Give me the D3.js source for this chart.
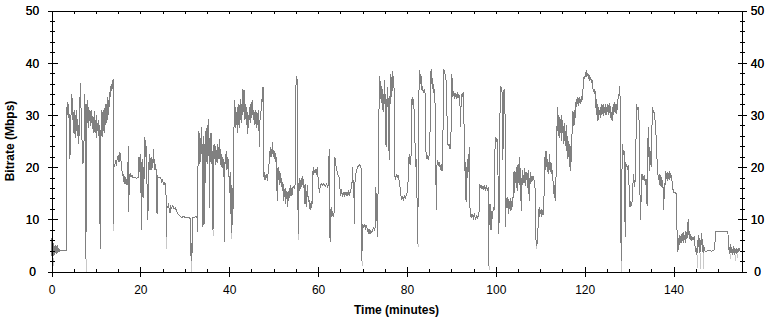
<!DOCTYPE html>
<html>
<head>
<meta charset="utf-8">
<script src="https://cdn.jsdelivr.net/npm/d3@7"></script>
<style>
  body { margin: 0; background: #fff; }
  .canvas text { font-family: "Liberation Sans", Arial, sans-serif; fill: #000; }
</style>
</head>
<body>
<div class="canvas"></div>
<script>
// ---- data (minutes, Mbps) ----
const xTicks = [0, 20, 40, 60, 80, 100, 120, 140];
const yTicks = [0, 10, 20, 30, 40, 50];

const bitrate = [
  [0,6.5],[0.1,3],[0.2,7.5],[0.3,2.5],[0.4,5.5],[0.5,3],[0.6,4.8],[0.7,3.2],[0.8,5],[0.9,3.5],[1.0,4.3],[1.1,3.4],[1.2,4.8],[1.3,3.6],[1.4,5],[1.5,3.8],[1.6,4.5],[1.8,3.9],[2.0,4],[2.5,4],[3.0,4],[3.4,4],
  [3.45,31.5],[3.55,30],[3.65,32.5],[3.75,29.5],[3.85,32],[3.95,30],[4.05,27],[4.15,21.6],[4.3,28],[4.4,30.2],[4.5,33],[4.6,34],[4.7,29],[4.8,31],[4.9,26.5],[5.0,30.5],[5.1,27],[5.2,31],[5.3,26],[5.4,25.5],[5.5,30],[5.6,27],[5.7,31],[5.8,26.5],[5.9,29],[6.0,24.5],[6.1,28],[6.2,26],[6.3,30],[6.4,33],[6.55,36.1],[6.65,31],[6.8,27.6],[6.9,24],[7.0,20.6],[7.15,22],[7.25,20.8],[7.35,27],[7.45,34],[7.6,31],[7.7,30],[7.75,2.4],[7.85,30],[7.9,32],
  [8.0,29],[8.1,32.8],[8.2,28.5],[8.3,31.5],[8.4,27.5],[8.5,31],[8.6,28.8],[8.7,30.5],[8.8,27.8],[8.9,31],[9.0,28.5],[9.1,30],[9.2,27.3],[9.3,29.8],[9.4,26.5],[9.5,29.5],[9.6,27],[9.7,30.8],[9.8,26.5],[9.9,29],[10.0,27.5],[10.1,30],[10.2,25.6],[10.3,28.5],[10.4,27],[10.5,29],[10.6,26],[10.7,28],
  [10.8,24],[10.9,9.1],[10.95,26],[11.05,4.3],[11.15,28],
  [11.25,31],[11.35,26],[11.45,30.5],[11.55,25.7],[11.65,31],[11.75,27],[11.85,30],[11.95,26.5],[12.05,31.5],[12.15,28],[12.25,32],[12.35,28.5],[12.45,31],[12.55,33.4],[12.65,29],[12.75,32.5],[12.85,30],[12.95,33],[13.05,31.5],
  [13.15,34],[13.25,35.5],[13.35,33.5],[13.45,36],[13.55,34.5],[13.65,36.5],[13.75,35],[13.85,36.8],[13.9,36.5],[13.95,9.1],[14.0,21],
  [14.2,20],[14.4,21.3],[14.6,20.2],[14.8,21.8],[15.0,22.2],[15.2,21],[15.4,22.9],[15.6,21.5],[15.8,20],
  [15.95,18.5],[16.1,18.7],[16.25,17.2],[16.4,18.2],[16.55,16.8],[16.7,18],[16.85,17.4],[17.0,16.5],[17.15,18],[17.3,24.1],[17.4,11.4],[17.5,18.5],[17.7,18.7],[17.9,18.2],[18.1,18.5],[18.3,18.1],[18.6,18.1],[18.9,18.1],[19.1,17.8],[19.3,18],
  [19.6,18],[19.7,22],[19.8,21.5],[19.9,19],[20.0,22.5],[20.1,15],[20.2,21],[20.3,7.9],[20.4,17],[20.5,21.5],[20.6,14],[20.7,20],[20.8,16],
  [20.9,23],[21.0,25.7],[21.1,24.5],[21.2,22],[21.3,24],[21.4,20],[21.55,15],[21.7,9.8],[21.8,18],
  [21.9,21],[22.0,19.5],[22.1,22.5],[22.2,20],[22.3,21.8],[22.4,19.5],[22.5,22],[22.6,20.5],[22.7,21.5],[22.8,19.8],[22.9,23.5],[23.0,22],[23.1,20.5],[23.2,21.5],[23.3,19.5],[23.4,20.5],
  [23.6,19],[23.75,11],[23.85,18.5],[24.0,18.1],[24.3,18.1],[24.6,18],[24.8,17.2],[25.0,17.5],[25.2,16.8],[25.4,17],
  [25.6,16.5],[25.75,17],[25.85,6.6],[25.95,12.5],
  [26.1,12.3],[26.3,12.8],[26.5,12],[26.7,11.2],[26.8,12.5],[27.0,12.2],[27.3,12.6],[27.6,12],[27.9,12.2],[28.2,11.4],[28.5,11],[28.9,10.6],
  [29.3,10.4],[29.8,10.5],[30.3,10.3],[30.8,10.4],[31.1,10.2],
  [31.3,10],[31.35,3],[31.45,5.5],[31.5,2.1],[31.6,4.5],[31.7,3.5],[31.75,6],[31.8,10.3],[32.2,10.4],[32.6,10.5],[32.85,10.3],
  [32.9,7.5],[33.0,23.8],
  [33.1,27],[33.2,22],[33.3,26.5],[33.4,20.5],[33.5,25.5],[33.6,21],[33.7,27.6],[33.8,22.5],[33.9,24.5],[34.0,19],[34.1,8.5],[34.2,23],[34.3,26],[34.4,20],[34.5,9.1],[34.6,24],[34.7,27],[34.8,21],[34.9,27.5],[35.0,22],[35.1,28],[35.2,20.5],[35.3,27],[35.4,29.2],[35.5,22],[35.6,12.1],[35.7,25],[35.8,21],[35.9,26.5],[36.0,20.5],[36.1,24.5],[36.2,19.5],[36.35,7.9],[36.45,22],
  [36.6,24.5],[36.7,21.5],[36.8,23.5],[36.9,20.5],[37.0,24],[37.1,21],[37.2,23],[37.3,20.8],[37.4,24.5],[37.5,21.5],[37.6,23.8],[37.7,22],[37.8,25.4],[37.9,21.5],[38.0,23.5],[38.1,20.5],[38.2,22.5],[38.3,20],[38.4,22],[38.5,19.8],[38.6,21.5],[38.7,20.5],[38.8,21],[38.95,5.6],[39.05,21],
  [39.2,22.5],[39.3,20],[39.4,23],[39.5,19.5],[39.6,22],[39.7,20.5],[39.8,21.5],[39.9,19],[40.0,17.5],
  [40.1,15],[40.2,19],[40.3,11],[40.4,17],[40.5,7.3],[40.6,14],[40.7,9],[40.8,16],[40.95,12],
  [41.1,30],[41.2,32.8],[41.3,28.5],[41.4,31.5],[41.5,27.5],[41.6,30.5],[41.7,28],[41.8,31.5],[41.9,26.5],[42.0,30],[42.1,28],[42.2,32],[42.3,27.5],[42.4,30.5],[42.5,29],[42.6,33],[42.7,28.5],[42.8,32],[42.9,30],[43.0,34.5],[43.1,35],[43.2,30.5],[43.3,33],[43.4,29],[43.5,34.7],[43.6,30],[43.7,32],[43.8,28.5],[43.9,31.5],[44.0,28],[44.1,30.5],[44.2,26.4],[44.3,30],[44.4,27.5],[44.5,31.5],[44.6,29],[44.7,32],[44.8,28.5],[44.9,31],[45.0,29.5],[45.1,32.5],[45.2,30],[45.3,32.8],[45.4,29],[45.5,31],[45.6,28.5],[45.7,30.5],[45.8,28],[45.9,31],[46.0,29],[46.1,30.5],[46.2,27.5],[46.3,30],[46.4,28],[46.5,31],[46.6,27],[46.7,29.5],[46.8,23.8],[46.9,28.5],[47.0,30.5],[47.1,29],[47.2,32],[47.3,31],[47.4,33.5],[47.5,32.5],[47.6,35.3],[47.7,34],
  [47.8,18.2],[47.9,17.6],[48.0,19],[48.2,17.5],[48.4,18.7],[48.6,17.4],[48.8,19.3],[49.0,21],
  [49.1,23],[49.2,22],[49.3,23.8],[49.4,22.3],[49.5,23.5],[49.6,22],[49.7,24.8],[49.8,22.5],[49.9,23.2],[50.0,21.9],[50.1,23],[50.2,21.5],[50.3,22.8],[50.4,21],[50.5,22.5],
  [50.65,19.5],[50.8,13.6],[50.9,19],[51.0,20],[51.1,17.5],[51.2,19.5],[51.3,16.5],[51.4,18.5],[51.5,17],[51.6,18.8],[51.7,16.2],[51.8,18],[51.9,17],[52.0,16.5],
  [52.1,15.5],[52.2,16.8],[52.3,13.5],[52.4,15.8],[52.5,14.2],[52.6,16],[52.7,13],[52.8,15],[52.9,13.8],[53.0,15.5],[53.1,12.3],[53.2,14.5],[53.3,13.5],[53.4,15.5],[53.5,14],[53.6,16],[53.7,14.5],[53.8,16.5],[53.9,15],[54.0,16],[54.1,14.5],[54.3,16],[54.5,16.2],[54.7,16],
  [54.9,17],[55.0,35],[55.1,37],[55.2,37.5],[55.3,36.5],[55.4,34],[55.5,7.2],[55.6,17],
  [55.7,16.5],[55.8,18],[55.9,15.5],[56.0,17.5],[56.1,15.8],[56.2,17.8],[56.3,16.2],[56.4,18.2],[56.5,16.5],[56.6,17.8],[56.7,16],[56.8,17.5],[56.9,13],[57.0,16.5],[57.1,15],[57.2,16.8],[57.3,12.3],[57.4,15.5],[57.5,14],[57.6,16.5],[57.7,15],[57.8,13.5],[57.9,14.5],[58.0,12.5],
  [58.1,13.6],[58.2,11.7],[58.3,13.2],[58.4,12],[58.5,13.5],[58.6,12.5],[58.7,14],
  [58.8,19.3],[58.9,18.5],[59.0,20],[59.2,18.8],[59.4,19.6],[59.6,18.5],[59.8,20],[59.9,19],
  [60.1,17],[60.3,15],[60.5,16.5],[60.7,16.8],[61.0,16.5],[61.3,16.9],[61.6,16.3],[61.9,16.8],[62.2,16],[62.35,18],
  [62.5,23.5],[62.6,12],[62.7,5.6],[62.8,12],
  [62.9,11],[63.0,12.3],[63.1,10.4],[63.3,11.5],[63.5,10.5],[63.65,11.8],[63.8,21.9],[63.9,20.5],
  [64.1,20],[64.3,19],[64.5,18.5],[64.7,18.2],[64.9,16],[65.1,14.5],[65.3,15.8],[65.5,14.2],
  [65.7,15],[65.9,14.5],[66.1,15.3],[66.3,14.6],[66.5,15.2],[66.7,14.5],[66.9,15.5],[67.1,14.8],[67.3,15.4],
  [67.5,16],[67.7,17.5],[67.8,20],[67.95,14],[68.1,16],[68.2,9.1],[68.3,17],
  [68.5,18.7],[68.7,19.5],[68.9,20],[69.1,20.3],[69.3,20.5],[69.5,20.2],[69.7,19.8],
  [69.8,5],[69.85,2.1],[69.95,7],
  [70.1,9],[70.3,8.5],[70.5,9.1],[70.7,8.2],[70.9,8.6],[71.1,8],[71.3,7.5],[71.5,8.2],[71.7,7.2],[71.9,7.8],[72.1,7.5],[72.3,8],[72.5,8.3],[72.7,8],[72.9,8.6],
  [73.0,16.2],[73.1,12],[73.2,15],[73.3,6.6],[73.45,12],
  [73.7,30],[73.8,37.5],[73.9,36],
  [74.0,33],[74.1,36.5],[74.2,34],[74.3,35.5],[74.4,32],[74.5,35],[74.6,31],[74.7,34],[74.8,30.5],[74.9,36.6],[75.0,32],[75.1,34],[75.2,28],[75.3,23.8],[75.4,30],[75.5,33],[75.6,31.5],[75.7,35.3],[75.8,30],[75.9,27],[76.0,21.3],[76.1,30],[76.2,34],[76.3,32],[76.4,37.9],[76.5,33.5],[76.6,36],[76.7,34.5],[76.8,38.5],[76.9,36.5],[77.0,37.5],[77.1,35],
  [77.2,18.4],[77.4,17.8],[77.6,18.5],[77.8,18],[78.0,18.4],[78.2,17.6],[78.4,16.5],
  [78.6,14.8],[78.8,13.8],[79.0,14.5],[79.2,13.6],[79.4,14.6],[79.6,14],[79.8,14.5],
  [80.0,15],[80.2,16.2],[80.35,20],[80.5,22.5],[80.7,20.5],[80.9,21.3],[81.0,27],[81.15,33.4],[81.3,32],[81.45,33],[81.6,31],[81.8,25],[82.0,20],[82.15,21.5],[82.3,12],[82.4,5.3],[82.5,13],[82.6,25],[82.7,34],[82.8,37.5],[82.9,38.5],[83.0,36],[83.15,37.8],[83.3,35],[83.5,35.3],[83.7,34.2],[83.9,35],[84.1,34],[84.2,30],[84.3,22.5],[84.5,21.5],[84.7,22.3],[84.9,21.3],[85.05,23],
  [85.2,27],[85.3,33],[85.4,38.5],[85.5,36],[85.6,38.8],[85.7,35],[85.8,37],[85.9,34.5],[86.0,36],[86.1,34],[86.2,35],[86.3,33.5],[86.45,25],[86.6,11.7],[86.7,20],[86.9,21.3],[87.1,20.5],
  [87.3,21],[87.5,19.5],[87.7,20.5],[87.9,19.3],[88.05,20],
  [88.15,30],[88.2,38.8],[88.35,38],[88.5,38.5],[88.65,37],[88.8,36.6],[88.95,34],
  [89.1,25],[89.3,24],[89.5,24.5],[89.7,23.5],[89.85,24],
  [90.0,30],[90.1,37.9],[90.2,36],[90.35,33.5],[90.5,34.5],[90.65,33],[90.8,34.2],[90.95,33.5],[91.1,34],[91.25,33],[91.4,34.3],[91.55,33.2],[91.7,34],[91.85,33],[92.0,31],[92.1,27.6],[92.2,33],[92.35,34],[92.5,33.5],[92.65,34.3],[92.8,34],
  [92.9,21.3],[93.0,22.5],[93.1,18],[93.2,21],[93.3,13.3],[93.4,20],[93.5,17],[93.6,21.5],[93.7,18.5],[93.8,22],[93.9,19],[94.0,23.8],
  [94.1,17],[94.2,12],[94.3,10.4],[94.45,11],[94.6,10.2],[94.8,11],[95.0,10.3],[95.2,10.8],[95.4,10.1],[95.6,10.6],[95.8,10.2],[96.0,10.7],[96.2,10.5],
  [96.35,16.8],[96.5,16],[96.7,16.6],[96.9,15.8],[97.1,16.4],[97.3,15.6],[97.5,16.5],[97.7,15.8],[97.9,16.3],[98.1,15.5],[98.3,16.2],
  [98.4,1.1],[98.5,12],[98.6,9],[98.7,13],[98.8,8],[98.9,12.5],[99.0,7.9],[99.1,11.5],[99.2,10],
  [99.45,12.3],[99.7,12],[99.85,25.7],[100.0,24.5],[100.2,25.5],[100.4,25],[100.55,15],[100.7,7.2],[100.85,20],[101.0,35.6],[101.15,34.5],[101.3,35.3],[101.45,34],[101.6,21.3],[101.75,34.5],[101.9,35],[102.05,34],[102.2,8.5],
  [102.35,14],[102.5,12.5],[102.65,14.2],[102.8,11],[102.95,13.8],[103.1,12],[103.25,14],[103.4,11.5],[103.55,13.5],[103.7,12.3],[103.85,14],[104.0,15],[104.1,19.3],[104.25,15],
  [104.4,19],[104.5,17],[104.6,20],[104.7,16],[104.8,19.5],[104.9,15.5],[105.0,20.5],[105.1,17],[105.2,19],[105.3,16.5],[105.4,22],[105.5,17.5],[105.6,19],[105.7,11.5],[105.8,18],[105.9,17],[106.0,19.5],[106.1,16.5],[106.2,18.5],[106.3,17.2],[106.4,19.8],[106.5,17],[106.6,18.8],[106.7,16.4],[106.8,19],[106.9,17.5],[107.0,18.5],[107.1,16],[107.2,18.9],[107.3,17.5],[107.4,19.5],[107.5,13.5],[107.6,18],[107.7,17],[107.8,19],[107.9,16.8],[108.0,18.2],[108.2,17.6],[108.4,18.3],[108.6,17.5],[108.8,16.5],
  [108.95,13],[109.05,6],[109.15,5],[109.3,5.3],[109.45,6.5],[109.6,12],[109.75,10.5],[109.9,12.3],[110.05,11],[110.2,12],[110.35,10.4],[110.5,11.8],[110.65,10.8],[110.8,12.5],
  [111.0,20],[111.1,22.5],[111.2,19.5],[111.3,23],[111.4,20],[111.5,22],[111.6,19],[111.7,21.5],[111.8,18.7],[111.9,21],[112.0,20.5],[112.1,22.5],[112.2,19.5],[112.3,21],[112.4,19],[112.5,20.8],[112.6,18.7],[112.75,19.5],[112.9,17],[113.05,14.9],[113.2,16.5],[113.35,13.6],[113.5,16],[113.65,22],
  [113.8,29],[113.9,31.5],[114.0,27],[114.1,30],[114.2,26],[114.3,29.5],[114.4,25.5],[114.5,28.5],[114.6,26.5],[114.7,30],[114.8,25],[114.9,28],[115.0,26.5],[115.1,29],[115.2,24.5],[115.3,27.5],[115.4,25.5],[115.5,28.5],[115.6,24],[115.7,27],[115.8,25],[115.9,28],[116.0,23],[116.1,26],[116.2,21.5],[116.3,25],[116.4,22],
  [116.5,24.5],[116.6,20],[116.7,23.5],[116.8,19.3],[116.9,24],[117.0,21],[117.1,25],
  [117.2,27.6],[117.3,30.8],[117.4,28],[117.5,30.5],[117.6,27.8],[117.7,31],[117.8,29],[117.9,30.5],
  [118.0,32],[118.1,33],[118.2,31.5],[118.3,33.4],[118.4,32],[118.5,33],[118.6,31.8],[118.7,33.2],[118.8,32.3],[118.9,33.5],[119.0,32.1],[119.1,33],[119.2,32.4],[119.3,33.6],[119.4,32.8],
  [119.6,34.5],[119.75,36.6],[119.9,37.5],[120.0,36.8],[120.15,38.2],[120.3,37.2],[120.45,38.5],[120.6,37.5],
  [120.75,37.9],[120.9,36.8],[121.05,37.6],[121.2,36.6],[121.35,37.3],[121.5,36.2],[121.65,36.8],
  [121.8,35.3],[121.95,34.5],[122.1,35],[122.25,34],[122.4,34.6],
  [122.5,32.8],[122.6,30],[122.7,33],[122.8,29.5],[122.9,32],[123.0,28.9],[123.1,31.5],[123.2,29.5],[123.3,31],[123.4,30],[123.5,31.5],
  [123.6,29.5],[123.7,31.8],[123.8,30],[123.9,32],[124.0,30.2],[124.1,31.5],[124.2,29.8],[124.3,32],[124.4,30.5],[124.5,31.6],[124.6,30],[124.7,32.1],[124.8,30.3],[124.9,31.5],[125.0,29.9],[125.1,32],[125.2,30.5],[125.3,31.3],[125.4,30],[125.5,32.3],[125.6,30.4],[125.7,31.7],[125.8,29.5],[125.9,31],[126.0,29],[126.1,30.5],[126.2,28.9],[126.3,31.5],[126.4,30],[126.5,32],[126.6,30.5],[126.7,32.4],[126.8,30.8],[126.9,32],[127.0,30.3],[127.1,31.8],[127.2,30.2],[127.3,32.5],[127.4,31],[127.5,33],
  [127.65,33.5],[127.8,34.5],[127.9,35.6],[128.0,32],[128.1,20],[128.2,2.1],[128.3,8],
  [128.45,24.5],[128.6,22],[128.75,23.2],[128.9,22.5],[129.0,23],[129.1,6.6],[129.2,21],[129.35,20],[129.5,20.5],[129.65,19.5],[129.8,20.3],[129.95,18],
  [130.05,13.6],[130.2,12.3],[130.35,13.4],[130.5,12.5],[130.65,13.2],
  [130.8,15],[130.95,18.7],[131.1,17.5],[131.25,16.2],[131.4,18],[131.55,25],[131.7,32.1],[131.85,31],[132.0,31.5],[132.15,30.5],[132.3,28],[132.45,15],[132.6,9.8],[132.75,16],[132.9,18.7],[133.05,17.5],[133.2,18.3],[133.35,17.5],[133.5,18.5],[133.65,16.5],[133.8,17.8],[133.95,15],[134.05,12.6],[134.15,20],[134.3,27.6],[134.45,22],[134.55,23.8],[134.65,19.3],[134.8,23],[134.95,20],[135.1,26],[135.25,31.5],[135.4,30.5],[135.55,30.8],[135.7,30],[135.85,29],[136.0,27.5],[136.15,24],[136.3,21.3],
  [136.45,19],[136.6,17.5],[136.75,18.7],[136.9,16.5],[137.05,18.5],[137.2,16.2],[137.35,18],[137.5,17],[137.65,16],[137.8,11.7],[137.95,17],[138.1,16.5],
  [138.25,19.3],[138.4,17.8],[138.55,19],[138.7,17.4],[138.85,18.8],[139.0,17.6],[139.15,19.3],[139.3,18],[139.45,18.5],[139.6,17.8],
  [139.8,16],[139.95,15.5],[140.1,15],[140.3,15.2],[140.5,15],[140.7,14.9],
  [140.8,6.9],[140.85,3.7],[140.95,6],[141.05,4.2],[141.15,6.5],[141.25,5],[141.35,7],[141.45,5.3],[141.55,6.8],[141.65,5.6],[141.75,7.2],[141.85,5.5],[141.95,6.9],[142.05,5.8],[142.15,7.5],[142.25,5.4],[142.35,7],[142.45,6],[142.55,6.6],[142.65,5.5],[142.75,7.8],[142.85,6.2],[142.95,7.6],[143.05,6.4],[143.2,8.5],[143.3,10.1],[143.4,7],[143.5,7.8],[143.6,6.2],[143.7,7.4],[143.8,6],[143.9,7],[144.0,5.8],[144.1,6.8],[144.2,6],[144.35,6.5],[144.5,6],[144.65,6.8],[144.8,5.5],
  [144.9,4],[145.0,4.8],[145.1,3.2],[145.2,4.5],[145.3,3.5],[145.45,6],[145.55,5.2],[145.65,7],[145.75,4.3],[145.85,6.5],[145.95,3.5],[146.05,6],[146.2,5],[146.35,7.3],[146.45,4.5],[146.55,6.2],[146.65,3.5],[146.8,5],[146.95,4.2],
  [147.1,3.9],[147.5,3.9],[148.0,4],[148.5,3.9],[149.0,4],[149.3,4.2],[149.4,7.6],[149.8,7.6],[150.5,7.7],[151.2,7.6],[151.8,7.6],[152.25,7.6],
  [152.35,4.2],[152.5,4.6],[152.6,3.3],[152.7,4.4],[152.8,3.6],[152.9,5.3],[153.0,3.8],[153.1,4.5],[153.2,3.2],[153.3,4.3],[153.4,3.5],[153.5,4.8],[153.6,3.9],[153.7,4.4],[153.8,3.1],[153.9,4.2],[154.0,3.7],[154.1,4.5],[154.2,3.4],[154.3,4],[154.4,3.6],[154.55,4.5],[154.7,3.8],[154.85,4.2],[155,3.9]
];

// light grey extremes poking out below the main trace: [minute, from, to]
const dips = [
  [0.3,2.5,1],[7.75,2.4,0],[10.9,9.1,7.6],[13.95,9.1,7.8],[25.85,6.6,4.3],[31.5,2.1,0],
  [36.35,7.9,6.8],[40.5,7.3,6.2],[55.5,7.2,6],[69.85,2.1,1.1],[82.4,5.3,4.7],[98.4,1.1,0.3],
  [109.15,5,4.3],[128.2,2.1,0],[145.2,3.2,0.6],[145.95,3.5,0.4],[146.65,3.5,0.4],
  [152.6,3.3,2.3],[153.8,3.1,2],[154.2,3.4,2.5]
];

// ---- layout ----
const dims = { width: 775, height: 324 };
const plot = { left: 51.5, right: 741.5, top: 10.5, bottom: 271.5 };

const svg = d3.select(".canvas")
  .append("svg")
  .attr("width", dims.width)
  .attr("height", dims.height);

const x = d3.scaleLinear().domain([0, 155.3]).range([plot.left, plot.right]);
const y = d3.scaleLinear().domain([0, 50]).range([plot.bottom, plot.top]);

// light series first, main trace on top
svg.append("g")
  .selectAll("line")
  .data(dips)
  .enter().append("line")
  .attr("x1", d => Math.round(x(d[0])) + 0.5)
  .attr("x2", d => Math.round(x(d[0])) + 0.5)
  .attr("y1", d => y(d[1]))
  .attr("y2", d => y(d[2]))
  .attr("stroke", "#c8c8c8")
  .attr("stroke-width", 1)
  .attr("shape-rendering", "crispEdges");

const line = d3.line()
  .x(d => x(d[0]))
  .y(d => y(d[1]));

svg.append("path")
  .datum(bitrate)
  .attr("d", line)
  .attr("fill", "none")
  .attr("stroke", "#808080")
  .attr("stroke-width", 1)
  .attr("shape-rendering", "crispEdges"); // aliased, like the original plot

// ---- axes ----
const yMinor = d3.range(0, 51, 2).concat(yTicks).sort((a, b) => a - b);
const xMinor = d3.range(0, 155, 5);
const isMajorY = d => d % 10 === 0;
const isMajorX = d => d % 20 === 0;

const styleAxis = g => {
  g.select(".domain").attr("stroke", "#000").attr("shape-rendering", "crispEdges");
  g.selectAll(".tick line").attr("stroke", "#000").attr("shape-rendering", "crispEdges");
  g.selectAll("text").attr("font-size", "12px").attr("fill", "#000");
};

// left
const leftAxis = svg.append("g")
  .attr("transform", `translate(${plot.left},0)`)
  .call(d3.axisLeft(y).tickValues(yMinor).tickSizeOuter(0)
    .tickFormat(d => isMajorY(d) ? d : ""));
leftAxis.selectAll(".tick line")
  .attr("x1", d => isMajorY(d) ? -4 : -2)
  .attr("x2", d => isMajorY(d) ? 6 : 3);
leftAxis.selectAll(".tick text")
  .attr("x", -19).attr("text-anchor", "middle").attr("dy", "0.36em");
styleAxis(leftAxis);

// right
const rightAxis = svg.append("g")
  .attr("transform", `translate(${plot.right},0)`)
  .call(d3.axisRight(y).tickValues(yMinor).tickSizeOuter(0)
    .tickFormat(d => isMajorY(d) ? d : ""));
rightAxis.selectAll(".tick line")
  .attr("x1", d => isMajorY(d) ? -4 : -2)
  .attr("x2", d => isMajorY(d) ? 5 : 3);
rightAxis.selectAll(".tick text")
  .attr("x", 16).attr("text-anchor", "middle").attr("dy", "0.36em");
styleAxis(rightAxis);

// bottom
const bottomAxis = svg.append("g")
  .attr("transform", `translate(0,${plot.bottom})`)
  .call(d3.axisBottom(x).tickValues(xMinor).tickSizeOuter(0)
    .tickFormat(d => isMajorX(d) ? d : ""));
bottomAxis.selectAll(".tick line")
  .attr("y1", d => isMajorX(d) ? -5 : -3)
  .attr("y2", d => isMajorX(d) ? 5 : 0);
bottomAxis.selectAll(".tick text")
  .attr("y", 22).attr("dy", 0);
styleAxis(bottomAxis);

// top
const topAxis = svg.append("g")
  .attr("transform", `translate(0,${plot.top})`)
  .call(d3.axisTop(x).tickValues(xMinor).tickSizeOuter(0).tickFormat(""));
topAxis.selectAll(".tick line")
  .attr("y1", 0)
  .attr("y2", 3);
styleAxis(topAxis);

// titles
svg.append("text")
  .attr("x", (plot.left + plot.right) / 2)
  .attr("y", 314)
  .attr("text-anchor", "middle")
  .attr("font-size", "12px")
  .attr("font-weight", "bold")
  .text("Time (minutes)");

svg.append("text")
  .attr("transform", `translate(14,${(plot.top + plot.bottom) / 2}) rotate(-90)`)
  .attr("text-anchor", "middle")
  .attr("font-size", "12px")
  .attr("font-weight", "bold")
  .text("Bitrate (Mbps)");
</script>
</body>
</html>
